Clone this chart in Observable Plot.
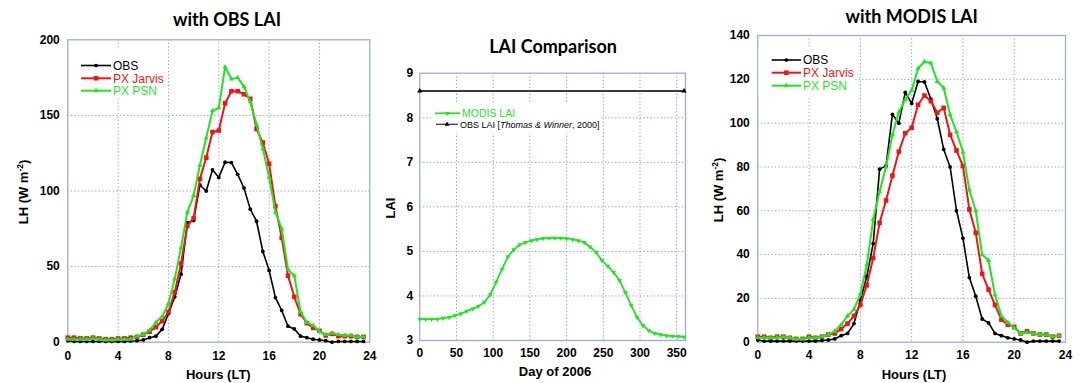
<!DOCTYPE html>
<html><head><meta charset="utf-8">
<script src="https://cdn.jsdelivr.net/npm/d3@7"></script>
<script src="https://cdn.jsdelivr.net/npm/@observablehq/plot@0.6"></script>
<style>
html,body{margin:0;padding:0;background:#fff;}
#wrap{position:relative;width:1082px;height:383px;overflow:hidden;background:#fff;}
#wrap > svg{position:absolute;}
</style></head><body><div id="wrap"></div>
<script>
// ---------- data ----------
const hours = [0,0.5,1,1.5,2,2.5,3,3.5,4,4.5,5,5.5,6,6.5,7,7.5,8,8.5,9,9.5,10,10.5,11,11.5,
  12,12.5,13,13.5,14,14.5,15,15.5,16,16.5,17,17.5,18,18.5,19,19.5,20,20.5,21,21.5,22,22.5,23,23.5];
const obsLH = [1,0.5,0.5,0.5,0.5,0.5,0.5,0.5,0.5,0.5,0.8,1,1.5,3,4,8.5,19,30,45,79,80.5,104,100,114,
  109,119,118.8,111,102,88,80,60,47.5,29.5,21,10.6,8.8,4,3,2,1.5,1,0,0.5,0.5,0.5,0.5,0.5];
const jarvisObsLAI = [3,3,2.5,2.5,3,2.5,2,2,2.5,2.5,3,3.5,5,7,10,14,20,33,52,77,82,108,122,139,
  140,158,166,166,164,161,141,132,118,90,69,44,30,18.5,12.6,9.5,7.5,4.5,5.5,4,4,4,3.5,3.5];
const psnObsLAI = [2,2,2,2,2.5,2,1.5,1.5,2,2,2,4,5,8,13,17,25.5,42,62.5,86,97,117,135,153,
  155,182,174,175,169,159,144,128,109,86,75,48,44,20,13,11,7,5,6,5,4.5,4.5,3.5,3.5];
const jarvisModisLAI = [2.5,2.5,2,2.5,2.5,2,1.5,1.5,2.5,2,2.5,3.5,4,6,8.5,12,17,26,38.4,54.5,64.7,76,87,95.4,
  97.9,108.4,112.6,110,104.7,107,94.7,87.5,80.4,60.6,50,31.2,24,17,10.3,8,7,4,5,4,3.5,3.5,2.5,3];
const psnModisLAI = [2,2,2,2,2.5,2,1.5,1.5,2,2,2.5,3.5,5,8,12,15,22,35.3,56,68.8,80,94.7,105,110.8,
  115,125,128,127.4,119,116,103.8,96,86.8,69.5,60,39.9,37.3,21.6,12,9,6.5,4,4.5,4,3.5,3.5,2.5,3];

const laiDays = [0,8,16,24,32,40,48,56,64,72,80,88,96,104,112,120,128,136,144,152,160,168,176,184,
  192,200,208,216,224,232,240,248,256,264,272,280,288,296,304,312,320,328,336,344,352,360];
const modisLAI = [3.48,3.48,3.48,3.48,3.5,3.52,3.56,3.6,3.66,3.71,3.77,3.86,4.03,4.31,4.6,4.88,5.04,5.15,
  5.2,5.24,5.27,5.29,5.3,5.3,5.3,5.29,5.27,5.24,5.2,5.1,4.98,4.8,4.67,4.53,4.35,4.08,3.79,3.52,
  3.34,3.22,3.16,3.13,3.11,3.1,3.09,3.08];
const obsDays = [0,360];
const obsLAIvals = [8.6,8.6];

const hourTicks = [0,4,8,12,16,20,24];
const lhTicksA = [0,50,100,150,200];
const lhTicksB = [0,20,40,60,80,100,120,140];
const dayTicks = [0,50,100,150,200,250,300,350];
const laiTicks = [3,4,5,6,7,8,9];

const seriesNames = ["OBS","PX Jarvis","PX PSN"];
const seriesColors = ["#000000","#f01414","#1ee61e"];

// ---------- helpers ----------
const GRID = "#8d9be6", FRAME = "#9aaae8";
const triDown = {draw(ctx, size){
  const a = Math.sqrt(4*size/Math.sqrt(3)), h = a*Math.sqrt(3)/2;
  ctx.moveTo(-a/2, -h/3); ctx.lineTo(a/2, -h/3); ctx.lineTo(0, 2*h/3); ctx.closePath();
}};
function rows(xs, ys){ return xs.map((x,i)=>({x, y: ys[i]})); }
function gridMarks(xDom, yDom, xT, yT){
  return [
    Plot.ruleX(xT.filter(t=>t>xDom[0]&&t<xDom[1]), {stroke: GRID, strokeWidth: 1, strokeDasharray: "1.3,2.2"}),
    Plot.ruleY(yT.filter(t=>t>yDom[0]&&t<yDom[1]), {stroke: GRID, strokeWidth: 1, strokeDasharray: "1.3,2.2"})
  ];
}
function lhSeries(obs, jar, psn){
  const d0 = rows(hours, obs), d1 = rows(hours, jar), d2 = rows(hours, psn);
  return [
    Plot.line(d0, {x:"x", y:"y", stroke: seriesColors[0], strokeWidth: 1.6}),
    Plot.dot(d0, {x:"x", y:"y", fill: seriesColors[0], r: 1.9, stroke: "none"}),
    Plot.line(d1, {x:"x", y:"y", stroke: seriesColors[1], strokeWidth: 2}),
    Plot.dot(d1, {x:"x", y:"y", symbol: "square", fill: seriesColors[1], r: 2.6, stroke: "none"}),
    Plot.line(d2, {x:"x", y:"y", stroke: seriesColors[2], strokeWidth: 2}),
    Plot.dot(d2, {x:"x", y:"y", symbol: "triangle", fill: seriesColors[2], r: 1.9, stroke: "none"})
  ];
}
function makePlot(o){
  const p = Plot.plot({
    width: o.width, height: o.height,
    marginLeft: o.ml, marginRight: o.mr, marginTop: o.mt, marginBottom: o.mb,
    style: {fontFamily: "'Liberation Sans', Arial, sans-serif", fontSize: "12px", fontWeight: "bold",
            color: "#000", background: "transparent", overflow: "visible"},
    x: {domain: o.xDom, ticks: o.xT, tickSize: 0, tickPadding: o.xPad, label: null, tickFormat: d=>String(d)},
    y: {domain: o.yDom, ticks: o.yT, tickSize: 0, tickPadding: o.yPad, label: null, tickFormat: d=>String(d)},
    marks: [
      ...gridMarks(o.xDom, o.yDom, o.xT, o.yT),
      Plot.frame({stroke: FRAME, strokeWidth: 1.3}),
      ...o.marks
    ]
  });
  p.style.left = o.left + "px"; p.style.top = "0px";
  return p;
}

const wrap = document.getElementById("wrap");

// Panel 1: with OBS LAI
wrap.appendChild(makePlot({
  left: 0, width: 375, height: 383, ml: 67.3, mr: 5.7, mt: 39.3, mb: 41.3,
  xDom: [0,24], yDom: [0,200], xT: hourTicks, yT: lhTicksA, xPad: 9, yPad: 8,
  marks: lhSeries(obsLH, jarvisObsLAI, psnObsLAI)
}));

// Panel 2: LAI comparison
const modisRows = rows(laiDays, modisLAI), obsLaiRows = rows(obsDays, obsLAIvals);
wrap.appendChild(makePlot({
  left: 380, width: 310, height: 383, ml: 39.3, mr: 5, mt: 72.7, mb: 43,
  xDom: [0,362], yDom: [3,9], xT: dayTicks, yT: laiTicks, xPad: 8, yPad: 6.6,
  marks: [
    Plot.line(obsLaiRows, {x:"x", y:"y", stroke: "#3a3a3a", strokeWidth: 2}),
    Plot.dot(obsLaiRows, {x:"x", y:"y", symbol: "triangle", fill: "#000", r: 2, stroke: "none"}),
    Plot.line(modisRows, {x:"x", y:"y", stroke: "#1ee61e", strokeWidth: 1.8}),
    Plot.dot(modisRows, {x:"x", y:"y", symbol: triDown, fill: "#1ee61e", r: 1.8, stroke: "none"})
  ]
}));

// Panel 3: with MODIS LAI
wrap.appendChild(makePlot({
  left: 720, width: 362, height: 383, ml: 37.3, mr: 17, mt: 35, mb: 41.3,
  xDom: [0,24], yDom: [0,140], xT: hourTicks, yT: lhTicksB, xPad: 8.5, yPad: 8,
  marks: lhSeries(obsLH, jarvisModisLAI, psnModisLAI)
}));

// ---------- overlay: titles, axis labels, legends ----------
const ov = d3.select(wrap).append("svg").attr("width",1082).attr("height",383)
  .style("left","0px").style("top","0px");
const titleFont = "Lato, 'Open Sans', sans-serif";
const labFont = "'Liberation Sans', Arial, sans-serif";
function title(x, y, t){
  ov.append("text").attr("x",x).attr("y",y).attr("text-anchor","middle")
    .attr("font-family",titleFont).attr("font-weight",700).attr("font-size",18).text(t);
}
title(227, 26, "with OBS LAI");
title(553, 53.3, "LAI Comparison");
title(911.7, 22.7, "with MODIS LAI");

function xlab(x, y, t){
  ov.append("text").attr("x",x).attr("y",y).attr("text-anchor","middle")
    .attr("font-family",labFont).attr("font-weight",700).attr("font-size",13).text(t);
}
xlab(218.3, 379, "Hours (LT)");
xlab(555, 376, "Day of 2006");
xlab(914, 379, "Hours (LT)");

function ylab(x, y, parts){
  const t = ov.append("text").attr("transform",`translate(${x},${y}) rotate(-90)`).attr("text-anchor","middle")
    .attr("font-family",labFont).attr("font-weight",700).attr("font-size",13);
  parts.forEach(p=>{
    const s = t.append("tspan").text(p.t);
    if (p.sup) s.attr("font-size",8.5).attr("dy",-5);
    if (p.after) s.attr("dy",5);
  });
}
ylab(28.3, 192, [{t:"LH (W m"},{t:"-2",sup:true},{t:")",after:true}]);
ylab(395, 208, [{t:"LAI"}]);
ylab(723, 190, [{t:"LH (W m"},{t:"-2",sup:true},{t:")",after:true}]);

function lhLegend(box, x0, x1, ys){
  ov.append("rect").attr("x",box[0]).attr("y",box[1]).attr("width",box[2]).attr("height",box[3]).attr("fill","#fff");
  const syms = [d3.symbolCircle, d3.symbolSquare, d3.symbolTriangle];
  const sizes = [11, 21, 11];
  seriesNames.forEach((n,i)=>{
    const y = ys[i];
    ov.append("line").attr("x1",x0).attr("x2",x1).attr("y1",y).attr("y2",y)
      .attr("stroke",seriesColors[i]).attr("stroke-width", i===0?1.6:2);
    ov.append("path").attr("d", d3.symbol(syms[i], sizes[i])()).attr("transform",`translate(${(x0+x1)/2},${y})`)
      .attr("fill",seriesColors[i]);
    ov.append("text").attr("x",x1+2).attr("y",y).attr("dy","0.36em").attr("font-family",labFont)
      .attr("font-size",12).attr("fill",seriesColors[i]).text(n);
  });
}
lhLegend([69,50,95,48], 81, 111, [65.5, 78.3, 90.7]);
lhLegend([758.5,47,95,50], 771.7, 801, [60, 72.7, 85.7]);

// LAI legend
ov.append("rect").attr("x",433).attr("y",103).attr("width",168).attr("height",30).attr("fill","#fff");
ov.append("line").attr("x1",435).attr("x2",460).attr("y1",113.3).attr("y2",113.3).attr("stroke","#1ee61e").attr("stroke-width",1.8);
ov.append("path").attr("d", d3.symbol(triDown, 10)()).attr("transform","translate(447.5,113.3)").attr("fill","#1ee61e");
ov.append("text").attr("x",462).attr("y",113.3).attr("dy","0.36em").attr("font-family",labFont)
  .attr("font-size",10.5).attr("fill","#1ee61e").text("MODIS LAI");
ov.append("line").attr("x1",436).attr("x2",458).attr("y1",124.3).attr("y2",124.3).attr("stroke","#3a3a3a").attr("stroke-width",1.3);
ov.append("path").attr("d", d3.symbol(d3.symbolTriangle, 10)()).attr("transform","translate(447,124.3)").attr("fill","#000");
const ot = ov.append("text").attr("x",460).attr("y",124.3).attr("dy","0.36em").attr("font-family",labFont)
  .attr("font-size",9).attr("fill","#000");
ot.append("tspan").text("OBS LAI [");
ot.append("tspan").attr("font-style","italic").text("Thomas & Winner");
ot.append("tspan").text(", 2000]");
</script></body></html>
